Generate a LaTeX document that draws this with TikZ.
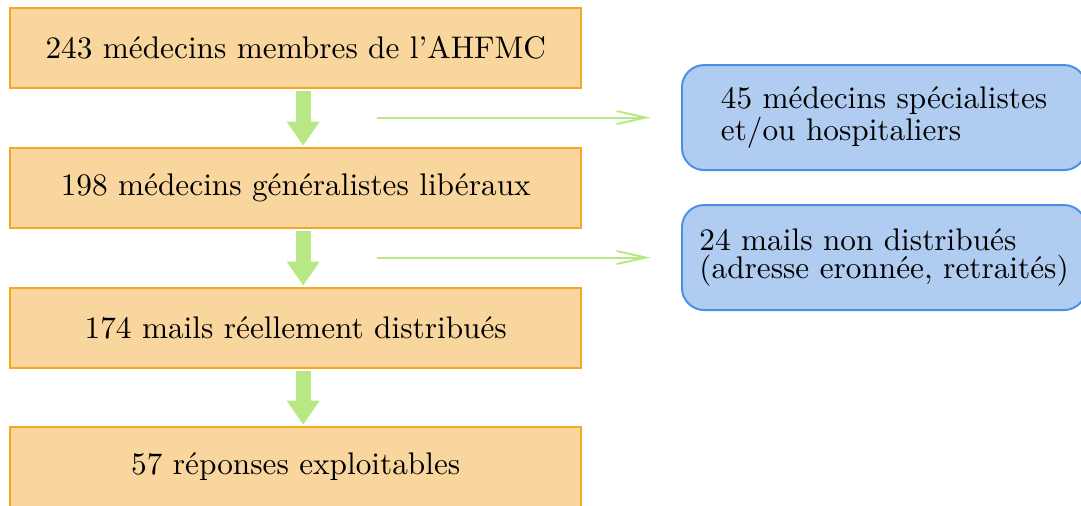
\documentclass[tikz,border=0pt]{standalone}
\usepackage{amsmath}
\usepackage{amssymb}
\usepackage{tikz}
\usetikzlibrary{arrows.meta}
\definecolor{orangefond}{RGB}{249,214,158}
\definecolor{orangebord}{RGB}{245,166,35}
\definecolor{bleufond}{RGB}{176,205,241}
\definecolor{bleubord}{RGB}{74,144,226}
\definecolor{vert}{RGB}{184,232,134}

\begin{document}
\begin{tikzpicture}[font=\fontsize{9.6pt}{11.5pt}\selectfont,
                etape/.style={draw=orangebord,fill=orangefond,line width=0.6pt,minimum width=6.16cm,minimum height=0.863cm},
                exclu/.style={draw=bleubord,fill=bleufond,line width=0.6pt,rounded corners=0.24cm,minimum width=4.36cm,minimum height=1.133cm,align=left},
                fleche/.style={vert,line width=4.6pt,-{Triangle[width=9.6pt,length=7.4pt]}},
                sortie/.style={vert,line width=0.6pt,-{Straight Barb[length=9pt,width=4pt]}}]
                \useasboundingbox (0,0) rectangle (11.66,-5.45);
                \node [etape] (membres) at (3.19,-0.518) {243 médecins membres de l'AHFMC};
                \node [etape] (generalistes) at (3.19,-2.028) {198 médecins généralistes libéraux};
                \node [etape] (distribues) at (3.19,-3.538) {174 mails réellement distribués};
                \node [etape] (reponses) at (3.19,-5.038) {57 réponses exploitables};
                \node [exclu] (specialistes) at (9.536,-1.268) {45 médecins spécialistes\\[-1.5pt]et/ou hospitaliers};
                \node [exclu] (nondistribues) at (9.536,-2.778) {24 mails non distribués\\[-3pt](adresse eronnée, retraités)};
                \coordinate (s1) at (4.07,-1.268);
                \coordinate (s2) at (4.07,-2.778);
                \draw [fleche,shorten <=0.5pt,shorten >=0.4pt] ([xshift=0.08cm]membres.south) -- ([xshift=0.08cm]generalistes.north);
                \draw [fleche,shorten <=0.5pt,shorten >=0.4pt] ([xshift=0.08cm]generalistes.south) -- ([xshift=0.08cm]distribues.north);
                \draw [fleche,shorten <=0.5pt,shorten >=0.4pt] ([xshift=0.08cm]distribues.south) -- ([xshift=0.08cm]reponses.north);
                \draw [sortie,shorten >=0.33cm] (s1) -- (specialistes);
                \draw [sortie,shorten >=0.33cm] (s2) -- (nondistribues);
            \end{tikzpicture}
\end{document}
